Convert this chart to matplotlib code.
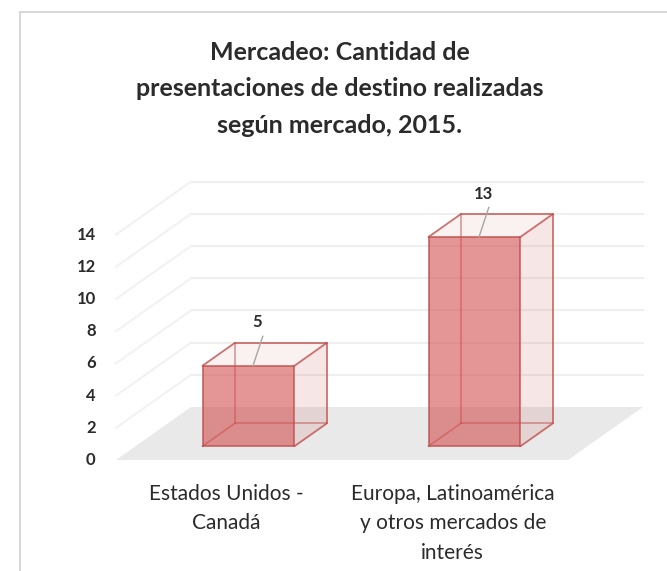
import matplotlib
matplotlib.use("Agg")
import matplotlib.pyplot as plt
from matplotlib.patches import Polygon, Rectangle

# data
categorias = ["Estados Unidos -\nCanadá", "Europa, Latinoamérica\ny otros mercados de\ninterés"]
valores = [5, 13]
yticks = [0, 2, 4, 6, 8, 10, 12, 14]
titulo = "Mercadeo: Cantidad de\npresentaciones de destino realizadas\nsegún mercado, 2015."

plt.rcParams['font.family'] = ['Lato', 'DejaVu Sans']

W, H = 667, 571
fig = plt.figure(figsize=(W / 100, H / 100), dpi=100)
ax = fig.add_axes([0, 0, 1, 1])
ax.axis('off')

# px per unit: 226 per category, 16.1 per value; depth = (75px, 53px)
ax.set_xlim(-229 / 226, (W - 229) / 226)
ax.set_ylim(-(H - 460) / 16.1, 460 / 16.1)
KX = 75 / 226
KY = 53 / 16.1


def P(cx, v, d):
    return (cx + d * KX, v + d * KY)


xmin, xmax = -0.5, len(valores) - 0.5
txt = '#2b2b2b'

# floor
ax.add_patch(Polygon([P(xmin, 0, 0), P(xmax, 0, 0), P(xmax, 0, 1), P(xmin, 0, 1)],
                     closed=True, fc='#e9e9e9', ec='none', zorder=1))

# gridlines on back and left wall
for v in yticks:
    if v == 0:
        continue
    x0, y0 = P(xmin, v, 1)
    x1, y1 = P(xmax, v, 1)
    ax.plot([x0, x1], [y0, y1], color='#efefef', lw=1.5, zorder=2)
    x0, y0 = P(xmin, v, 0)
    x1, y1 = P(xmin, v, 1)
    ax.plot([x0, x1], [y0, y1], color='#f2f2f2', lw=1.5, zorder=2)

# tick labels
for v in yticks:
    x0, y0 = P(xmin, v, 0)
    ax.text(x0 - 0.09, y0, str(v), ha='right', va='center', fontsize=12,
            fontweight='bold', color=txt)

bw = 0.407
d0, d1 = 0.26, 0.69
edge = '#c0504d'
for i, val in enumerate(valores):
    l, r = i - bw / 2, i + bw / 2
    # hidden back edges
    for a, b in [((l, 0, d1), (r, 0, d1)), ((l, 0, d1), (l, val, d1)),
                 ((l, 0, d0), (l, 0, d1))]:
        pa, pb = P(*a), P(*b)
        ax.plot([pa[0], pb[0]], [pa[1], pb[1]], color=edge, lw=1.2, alpha=0.55, zorder=3)
    # side face
    ax.add_patch(Polygon([P(r, 0, d0), P(r, 0, d1), P(r, val, d1), P(r, val, d0)],
                         closed=True, fc=edge, alpha=0.14, ec='none', zorder=4))
    # top face
    ax.add_patch(Polygon([P(l, val, d0), P(r, val, d0), P(r, val, d1), P(l, val, d1)],
                         closed=True, fc=edge, alpha=0.08, ec='none', zorder=4))
    # front face
    ax.add_patch(Polygon([P(l, 0, d0), P(r, 0, d0), P(r, val, d0), P(l, val, d0)],
                         closed=True, fc='#d24b4b', alpha=0.58, ec='none', zorder=5))
    # visible edges
    for a, b in [((l, 0, d0), (r, 0, d0)), ((r, 0, d0), (r, val, d0)),
                 ((r, val, d0), (l, val, d0)), ((l, val, d0), (l, 0, d0)),
                 ((l, val, d0), (l, val, d1)), ((l, val, d1), (r, val, d1)),
                 ((r, val, d1), (r, val, d0)), ((r, val, d1), (r, 0, d1)),
                 ((r, 0, d1), (r, 0, d0))]:
        pa, pb = P(*a), P(*b)
        ax.plot([pa[0], pb[0]], [pa[1], pb[1]], color=edge, lw=1.3, alpha=0.8,
                zorder=6, solid_capstyle='round')
    # leader line + label
    pa, pb = P(i + 0.02, val, d0), P(i + 0.03, val + 1.5, 0.36)
    ax.plot([pa[0], pb[0]], [pa[1], pb[1]], color='#a6a6a6', lw=1, zorder=7)
    lx, ly = P(i, val + 2.3, 0.38)
    ax.text(lx, ly, str(val), ha='center', va='center', fontsize=12,
            fontweight='bold', color=txt, zorder=8)

# category labels
for i, cat in enumerate(categorias):
    x0, y0 = P(i, 0, 0)
    ax.text(x0 - 0.01, y0 - 1.5, cat, ha='center', va='top', fontsize=15,
            color=txt, linespacing=1.58)

fig.text(340 / W, 1 - 41 / H, titulo, ha='center', va='top', fontsize=18,
         fontweight='bold', color=txt, linespacing=1.7)

fig.patches.append(Rectangle((20 / W, -0.05), 1.1, 1 - 12 / H + 0.05,
                             transform=fig.transFigure, fill=False,
                             ec='#d9d9d9', lw=1.5))

fig.savefig("out.png", dpi=100)
